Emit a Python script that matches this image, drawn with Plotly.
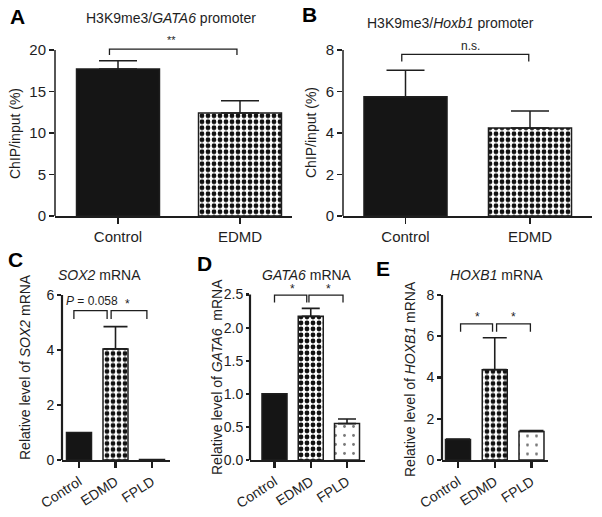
import plotly.graph_objects as go

W, H = 602, 517

# ---------------- data ----------------
cats_ab = ["Control", "EDMD"]
cats_cde = ["Control", "EDMD", "FPLD"]

a_vals = [17.7, 12.4]
a_err = [1.0, 1.5]
b_vals = [5.75, 4.24]
b_err = [1.27, 0.82]
c_vals = [1.0, 4.04, 0.02]
c_err = [0.0, 0.81, 0.0]
d_vals = [1.0, 2.17, 0.55]
d_err = [0.0, 0.12, 0.07]
e_vals = [1.0, 4.38, 1.38]
e_err = [0.02, 1.55, 0.05]

a_ticks = [0, 5, 10, 15, 20]
b_ticks = [0, 2, 4, 6, 8]
c_ticks = [0, 2, 4, 6]
d_ticks = [0, 0.5, 1.0, 1.5, 2.0, 2.5]
d_ticklabels = ["0.0", "0.5", "1.0", "1.5", "2.0", "2.5"]
e_ticks = [0, 2, 4, 6, 8]

titles = ["H3K9me3/<i>GATA6</i> promoter", "H3K9me3/<i>Hoxb1</i> promoter",
          "<i>SOX2</i> mRNA", "<i>GATA6</i> mRNA", "<i>HOXB1</i> mRNA"]
ytitles = ["ChIP/input (%)", "ChIP/input (%)",
           "Relative level of <i>SOX2</i> mRNA",
           "Relative level of <i>GATA6</i>  mRNA",
           "Relative level of <i>HOXB1</i> mRNA"]
letters = ["A", "B", "C", "D", "E"]

# significance brackets: (x_left, x_right, y_top, y_drop, label, label_x, label_y)
a_sig = [(-0.07, 0.975, 20.1, 19.4, "**", 0.44, 21.2)]
b_sig = [(-0.03, 0.99, 7.79, 7.44, "n.s.", 0.52, 8.2)]
c_sig = [(-0.14, 0.77, 5.43, 5.13, "<i>P</i> = 0.058", 0.36, 5.8),
         (0.88, 1.86, 5.43, 5.13, "*", 1.32, 5.68)]
d_sig = [(0.0, 0.89, 2.49, 2.38, "*", 0.5, 2.58),
         (0.95, 1.89, 2.49, 2.38, "*", 1.48, 2.58)]
e_sig = [(0.07, 0.94, 6.6, 6.22, "*", 0.53, 6.95),
         (1.05, 1.97, 6.6, 6.22, "*", 1.52, 6.95)]

# ---------------- styles / geometry ----------------
FONT = "Liberation Sans, Arial, Helvetica, sans-serif"
INK = "#1e1e1e"

panels = [
    dict(cats=cats_ab, vals=a_vals, err=a_err, ticks=a_ticks, tlabels=None, sig=a_sig,
         x0=55, x1=292, c0=118, c1=240, zero=216, top=20, toppx=50, ymax=24,
         bw=0.68, cap=19, lw=1.5, tick_angle=0, tfs=15, errw=1.5, tl=5),
    dict(cats=cats_ab, vals=b_vals, err=b_err, ticks=b_ticks, tlabels=None, sig=b_sig,
         x0=343, x1=592, c0=405.5, c1=530, zero=216, top=8, toppx=50, ymax=9.6,
         bw=0.667, cap=19, lw=1.5, tick_angle=0, tfs=15, errw=1.5, tl=5),
    dict(cats=cats_cde, vals=c_vals, err=c_err, ticks=c_ticks, tlabels=None, sig=c_sig,
         x0=62, x1=170, c0=79, c1=152, zero=460, top=6, toppx=295, ymax=6.6,
         bw=0.685, cap=12, lw=2.2, tick_angle=-33, tfs=14, errw=1.6, tl=4),
    dict(cats=cats_cde, vals=d_vals, err=d_err, ticks=d_ticks, tlabels=d_ticklabels, sig=d_sig,
         x0=250, x1=365, c0=274.5, c1=347, zero=460, top=2.5, toppx=294.5, ymax=2.75,
         bw=0.69, cap=9, lw=2.2, tick_angle=-33, tfs=14, errw=1.6, tl=3),
    dict(cats=cats_cde, vals=e_vals, err=e_err, ticks=e_ticks, tlabels=None, sig=e_sig,
         x0=442, x1=548, c0=458, c1=531.5, zero=460, top=8, toppx=295, ymax=8.8,
         bw=0.68, cap=12, lw=2.2, tick_angle=-33, tfs=14, errw=1.6, tl=4),
]

title_pos = [(171, 17.5), (450, 22.5), (99, 275), (307, 275), (496, 275)]
letter_pos = [(17, 17), (309, 14), (15, 259), (204, 263), (383, 268)]
ytitle_pos = [(15, 134), (311, 133), (25, 367), (217, 377), (410, 379)]

bar_style = {
    "Control": dict(color="#151515", pattern=dict(shape="")),
    "EDMD": dict(color="white", pattern=dict(shape=".", fgcolor="#111111", bgcolor="white",
                                             size=6, solidity=0.5, fillmode="replace")),
    "FPLD": dict(color="white", pattern=dict(shape=".", fgcolor="#777777", bgcolor="white",
                                             size=9, solidity=0.08, fillmode="replace")),
}

fig = go.Figure()
layout = dict(width=W, height=H, margin=dict(l=0, r=0, t=0, b=0, pad=0, autoexpand=False),
              paper_bgcolor="white", plot_bgcolor="white", showlegend=False,
              barmode="overlay", hovermode=False,
              font=dict(family=FONT, color=INK))
shapes = []
annotations = []

for i, p in enumerate(panels):
    n = i + 1
    xs = "x" if n == 1 else f"x{n}"
    ys = "y" if n == 1 else f"y{n}"
    xkey = "xaxis" if n == 1 else f"xaxis{n}"
    ykey = "yaxis" if n == 1 else f"yaxis{n}"
    ncat = len(p["cats"])
    ppu_x = (p["c1"] - p["c0"]) / (ncat - 1)
    xr = [-(p["c0"] - p["x0"]) / ppu_x, (ncat - 1) + (p["x1"] - p["c1"]) / ppu_x]
    ppu_y = (p["zero"] - p["toppx"]) / p["top"]
    top_dom_px = p["zero"] - p["ymax"] * ppu_y

    for j, cat in enumerate(p["cats"]):
        st = bar_style[cat]
        fig.add_trace(go.Bar(
            x=[cat], y=[p["vals"][j]], xaxis=xs, yaxis=ys, width=p["bw"],
            marker=dict(color=st["color"], line=dict(color=INK, width=1.5),
                        pattern=st["pattern"]),
            error_y=dict(type="data", array=[p["err"][j]], arrayminus=[0],
                         symmetric=False, thickness=p["errw"], width=p["cap"], color=INK,
                         visible=p["err"][j] > 0),
            hoverinfo="skip",
        ))

    layout[xkey] = dict(domain=[p["x0"] / W, p["x1"] / W], range=xr, type="category",
                        categoryorder="array", categoryarray=p["cats"], automargin=False,
                        anchor=ys, showline=True, linecolor=INK, linewidth=p["lw"],
                        ticks="outside", ticklen=6, tickwidth=p["lw"], tickcolor=INK,
                        showgrid=False, zeroline=False, tickangle=p["tick_angle"],
                        tickfont=dict(size=p["tfs"], family=FONT, color=INK), fixedrange=True)
    ydict = dict(domain=[1 - p["zero"] / H, 1 - top_dom_px / H], range=[0, p["ymax"]],
                 anchor=xs, showline=False, ticks="outside", ticklen=p["tl"], automargin=False,
                 tickwidth=p["lw"], tickcolor=INK, tickvals=p["ticks"],
                 showgrid=False, zeroline=False,
                 tickfont=dict(size=p["tfs"], family=FONT, color=INK), fixedrange=True)
    if p["tlabels"]:
        ydict["ticktext"] = p["tlabels"]
    layout[ykey] = ydict

    shapes.append(dict(type="line", xref=f"{xs} domain", yref=ys, x0=0, x1=0,
                       y0=0, y1=p["top"], line=dict(color=INK, width=p["lw"])))

    for (xl, xrr, yt, yd, lab, lx, ly) in p["sig"]:
        shapes.append(dict(type="path", xref=xs, yref=ys,
                           path=f"M {xl},{yd} L {xl},{yt} L {xrr},{yt} L {xrr},{yd}",
                           line=dict(color=INK, width=1.3)))
        annotations.append(dict(x=lx, y=ly, xref=xs, yref=ys, text=lab, showarrow=False,
                                font=dict(size=12 if lab != "**" else 11, family=FONT, color=INK),
                                xanchor="center", yanchor="middle"))

    tx, ty = title_pos[i]
    annotations.append(dict(x=tx / W, y=1 - ty / H, xref="paper", yref="paper",
                            text=titles[i], showarrow=False, xanchor="center", yanchor="middle",
                            font=dict(size=14, family=FONT, color=INK)))
    lx, ly = letter_pos[i]
    annotations.append(dict(x=lx / W, y=1 - ly / H, xref="paper", yref="paper",
                            text=f"<b>{letters[i]}</b>", showarrow=False,
                            xanchor="center", yanchor="middle",
                            font=dict(size=21, family=FONT, color="#000")))
    yx, yy = ytitle_pos[i]
    annotations.append(dict(x=yx / W, y=1 - yy / H, xref="paper", yref="paper",
                            text=ytitles[i], showarrow=False, textangle=-90,
                            xanchor="center", yanchor="middle",
                            font=dict(size=14, family=FONT, color=INK)))

layout["shapes"] = shapes
layout["annotations"] = annotations
fig.update_layout(**layout)

fig.write_html("out.html", config={"displayModeBar": False, "staticPlot": True},
               post_script="document.body.style.margin='0';document.body.style.overflow='hidden';")
